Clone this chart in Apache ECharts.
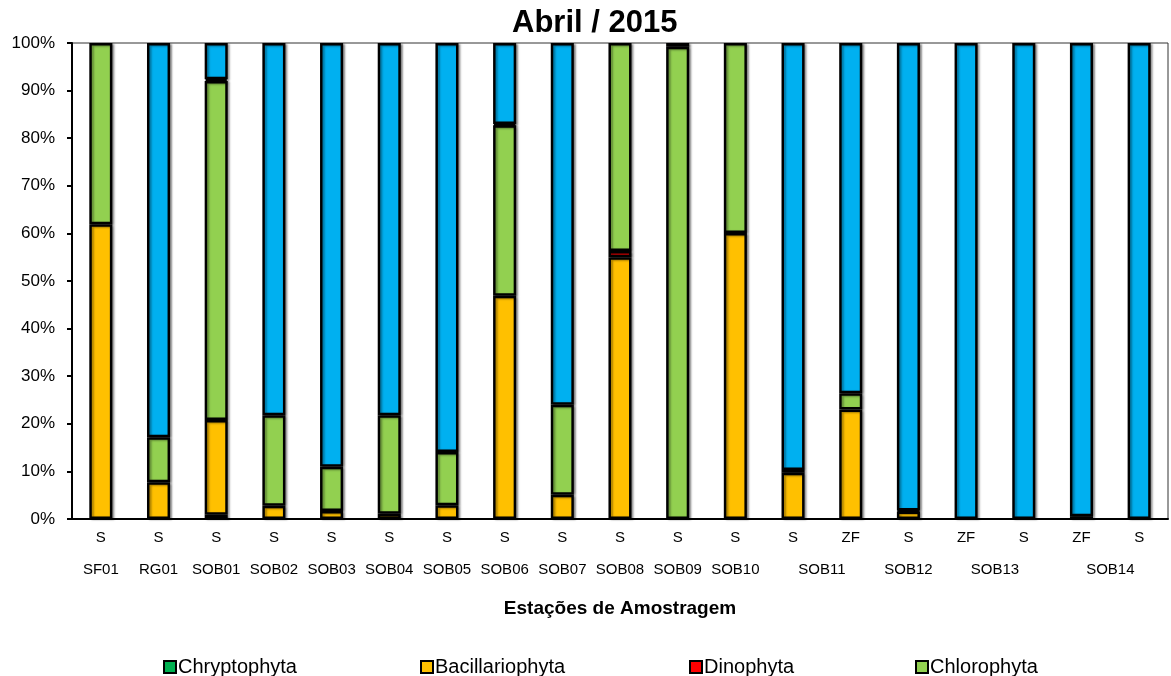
<!DOCTYPE html>
<html>
<head>
<meta charset="utf-8">
<script src="https://cdn.jsdelivr.net/npm/echarts@6/dist/echarts.min.js"></script>
<style>
  html, body { margin: 0; padding: 0; background: #fff; }
  #chart { width: 1171px; height: 676px; }
</style>
</head>
<body>
<div id="chart"></div>
<script>
// Sampling type of each column (S / ZF)
const tipos = ['S','S','S','S','S','S','S','S','S','S','S','S','S','ZF','S','ZF','S','ZF','S'];
// Station each column belongs to (consecutive columns are grouped under one label)
const estacoes = ['SF01','RG01','SOB01','SOB02','SOB03','SOB04','SOB05','SOB06','SOB07','SOB08',
                  'SOB09','SOB10','SOB11','SOB11','SOB12','SOB13','SOB13','SOB14','SOB14'];

// Relative composition (%) per column, stacked bottom to top
const chryptophyta    = [0, 0, 0.9, 0, 0, 0, 0, 0, 0, 0, 0, 0, 0, 0, 0, 0, 0, 0, 0];
const bacillariophyta = [61.9, 7.7, 19.9, 2.8, 1.7, 1.1, 2.9, 46.9, 5.1, 55.0, 0, 60.1, 9.7, 23.0, 1.6, 0, 0, 0, 0];
const dinophyta       = [0, 0, 0, 0, 0, 0, 0, 0, 0, 1.3, 0, 0, 0, 0, 0, 0, 0, 0, 0];
const chlorophyta     = [38.1, 9.5, 71.2, 19.0, 9.3, 20.7, 11.2, 35.8, 18.9, 43.7, 99.2, 39.9, 0, 3.4, 0, 0, 0, 0, 0];
const euglenophyta    = [0, 0, 0.4, 0, 0, 0, 0, 0.3, 0, 0, 0.8, 0, 0.6, 0, 0.2, 0, 0, 0.6, 0];
const cyanobacteria   = [0, 82.8, 7.6, 78.2, 89.0, 78.2, 85.9, 17.0, 76.0, 0, 0, 0, 89.7, 73.6, 98.2, 100, 100, 99.4, 100];

const yTicks = [0, 10, 20, 30, 40, 50, 60, 70, 80, 90, 100];

// Group label positions on a 0..N value scale: centre of each run of equal station names
const groupLabels = {};
(function () {
  let start = 0;
  for (let i = 1; i <= estacoes.length; i++) {
    if (i === estacoes.length || estacoes[i] !== estacoes[start]) {
      const centre = (start + i) / 2;
      groupLabels[centre.toFixed(1)] = estacoes[start];
      start = i;
    }
  }
})();

const FONT = '"Liberation Sans", Arial, sans-serif';
const nz = arr => arr.map(v => (v === 0 ? null : v));

const barStyle = color => ({
  color: color,
  borderColor: '#000',
  borderWidth: 2.5,
  shadowColor: 'rgba(0,0,0,0.35)',
  shadowBlur: 2,
  shadowOffsetX: 2,
  shadowOffsetY: 1
});

const seriesDefs = [
  { name: 'Chryptophyta',    data: chryptophyta,    color: '#00B050' },
  { name: 'Bacillariophyta', data: bacillariophyta, color: '#FFC000' },
  { name: 'Dinophyta',       data: dinophyta,       color: '#FF0000' },
  { name: 'Chlorophyta',     data: chlorophyta,     color: '#92D050' },
  { name: 'Euglenophyta',    data: euglenophyta,    color: '#1F1F1F' },
  { name: 'Cyanobacteria',   data: cyanobacteria,   color: '#00B0F0' }
];

const legendPos = [
  { name: 'Chryptophyta', left: 158 },
  { name: 'Bacillariophyta', left: 415 },
  { name: 'Dinophyta', left: 684 },
  { name: 'Chlorophyta', left: 910 }
];

const chart = echarts.init(document.getElementById('chart'), null, { renderer: 'canvas' });

chart.setOption({
  animation: false,
  backgroundColor: '#fff',
  title: {
    text: 'Abril / 2015',
    left: 507,
    top: 3,
    textStyle: { fontFamily: FONT, fontSize: 31, fontWeight: 'bold', color: '#000' }
  },
  legend: legendPos.map(l => ({
    data: [l.name],
    left: l.left,
    top: 652,
    icon: 'rect',
    itemWidth: 12,
    itemHeight: 12,
    itemStyle: { borderColor: '#000', borderWidth: 2, shadowBlur: 0, shadowOffsetX: 0, shadowOffsetY: 0 },
    textStyle: { fontFamily: FONT, fontSize: 20, color: '#000', padding: [0, 0, 0, -3] },
    selectedMode: false
  })),
  grid: {
    left: 72, right: 3, top: 43, bottom: 157,
    show: true, borderColor: '#333', borderWidth: 1, backgroundColor: 'transparent'
  },
  xAxis: [
    {
      type: 'category',
      data: tipos,
      position: 'bottom',
      axisLine: { lineStyle: { color: '#000', width: 2 } },
      axisTick: { show: false },
      axisLabel: { fontFamily: FONT, fontSize: 15, color: '#000', margin: 11 },
      name: 'Estações de Amostragem',
      nameLocation: 'middle',
      nameGap: 80,
      nameTextStyle: { fontFamily: FONT, fontSize: 19, fontWeight: 'bold', color: '#000' }
    },
    {
      type: 'value',
      min: 0,
      max: estacoes.length,
      interval: 0.5,
      position: 'bottom',
      offset: 32,
      axisLine: { show: false },
      axisTick: { show: false },
      splitLine: { show: false },
      axisLabel: {
        fontFamily: FONT, fontSize: 15, color: '#000', margin: 11,
        showMinLabel: true, showMaxLabel: true, hideOverlap: false,
        formatter: v => groupLabels[Number(v).toFixed(1)] || ''
      }
    }
  ],
  yAxis: {
    type: 'value',
    min: yTicks[0],
    max: yTicks[yTicks.length - 1],
    interval: yTicks[1] - yTicks[0],
    axisLine: { show: true, lineStyle: { color: '#000', width: 2 } },
    axisTick: { show: true, length: 5, lineStyle: { color: '#000', width: 2 } },
    splitLine: { show: false },
    axisLabel: { fontFamily: FONT, fontSize: 17, color: '#000', margin: 17, formatter: '{value}%' }
  },
  series: seriesDefs.map(s => ({
    name: s.name,
    type: 'bar',
    stack: 'total',
    xAxisIndex: 0,
    barWidth: '40%',
    data: nz(s.data),
    itemStyle: barStyle(s.color)
  }))
});
</script>
</body>
</html>
